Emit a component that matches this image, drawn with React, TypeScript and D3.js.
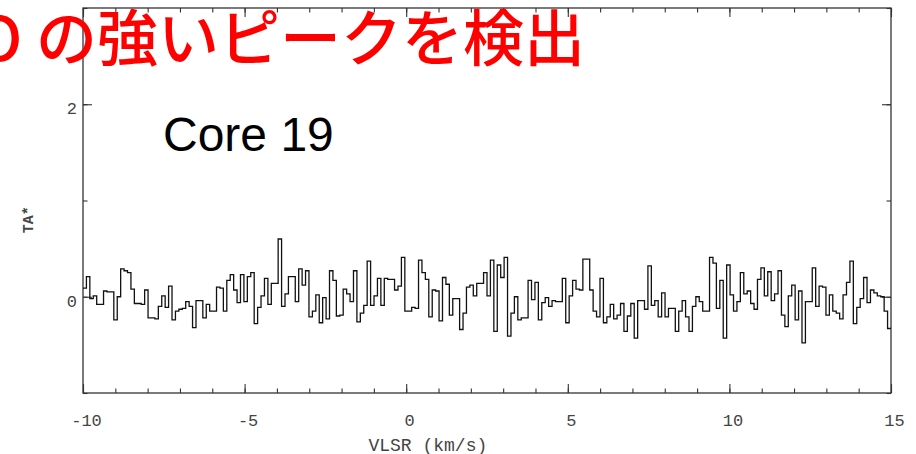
import React from 'react';
import * as d3 from 'd3';

// velocity range covered by the spectrum (km/s)
const vStart = -10;
const vEnd = 15;

// TA* per channel, read left to right off the plot, split in pieces
const taPart1 = [0.09, 0.21, -0.02, 0.01, -0.08, -0.08, 0.06, 0.05, 0.05, -0.24, 0.0, 0.29, 0.27, 0.25, 0.08, -0.07, -0.07, -0.08, 0.07, -0.22, -0.22, -0.23, -0.1, 0.01, -0.11, 0.11, -0.24, -0.15, -0.13, -0.12, -0.05, -0.1, -0.32, -0.04, -0.04, -0.22, -0.08, -0.15, -0.15, 0.1, 0.09, -0.15, 0.17, 0.23, 0.07, -0.06, 0.23, -0.05, 0.21];
const taPart2 = [0.25, -0.28, -0.11, 0.01, 0.19, -0.08, 0.14, 0.14, 0.6, -0.1, 0.03, 0.21, 0.21, -0.05, 0.29, 0.12, 0.27, -0.21, -0.15, 0.02, -0.27, -0.01, -0.23, 0.27, 0.17, -0.2, -0.19, 0.08, 0.03, -0.05, 0.27, -0.26, -0.17, -0.09, 0.37, -0.09, 0.01, 0.19, -0.09, 0.19, 0.18, 0.18, 0.07, 0.11, 0.41, -0.15, -0.15];
const taPart3 = [-0.11, -0.12, 0.38, 0.25, 0.18, -0.21, 0.07, 0.06, -0.25, 0.2, 0.13, -0.19, -0.02, -0.02, -0.34, -0.17, 0.1, 0.12, 0.01, 0.14, 0.14, 0.25, 0.01, 0.38, -0.36, 0.33, 0.2, 0.41, -0.41, -0.17, 0.0, -0.24, -0.22, -0.22, 0.17, -0.03, 0.15, -0.24, -0.06, -0.01, -0.1, -0.04, -0.05, -0.05, 0.19, -0.27, 0.01, 0.17];
const taPart4 = [0.08, 0.07, 0.39, 0.39, 0.07, -0.15, -0.21, 0.19, -0.27, -0.21, -0.08, -0.23, -0.19, -0.07, -0.36, -0.2, -0.07, -0.43, -0.04, -0.04, -0.13, 0.32, -0.09, -0.04, -0.21, 0.04, -0.21, -0.12, -0.12, -0.36, -0.15, -0.04, -0.21, -0.36, -0.1, 0.0, -0.05, -0.15, -0.15, 0.41, 0.35, -0.12, 0.17, -0.43, 0.33, 0.02, -0.15];
const taPart5 = [-0.05, 0.25, 0.03, 0.06, -0.07, -0.13, 0.18, 0.3, 0.01, 0.26, -0.04, 0.03, 0.27, -0.19, -0.31, 0.01, 0.12, -0.24, 0.06, -0.48, -0.05, -0.05, 0.3, -0.1, 0.11, 0.1, -0.19, 0.02, -0.15, -0.17, -0.23, 0.02, 0.15, 0.37, -0.28, -0.11, -0.02, 0.2, -0.06, 0.07, 0.04, 0.01, 0.0, -0.15, -0.33];

// axis ticks
const xMajorTicks = [-10, -5, 0, 5, 10, 15];
const xMinorTicks = d3.range(-10, 16, 1);
const yDomain = [-1, 3];
const yMajorTicks = [0, 2];
const yMinorTicks = [-1, 0, 1, 2, 3];

const titleText = 'C¹⁸O の強いピークを検出';
const coreText = 'Core 19';

function App() {
  const svgRef = React.useRef(null);

  const width = 916;
  const height = 454;
  const margin = { top: 8, right: 25, bottom: 61, left: 83 };
  const innerW = width - margin.left - margin.right;
  const innerH = height - margin.top - margin.bottom;

  React.useEffect(() => {
    const ta = [...taPart1, ...taPart2, ...taPart3, ...taPart4, ...taPart5];
    const dv = (vEnd - vStart) / ta.length;
    const pts: [number, number][] = ta.map((t, i) => [vStart + i * dv, t]);
    pts.push([vEnd, ta[ta.length - 1]]);

    const x = d3.scaleLinear().domain([vStart, vEnd]).range([0, innerW]);
    const y = d3.scaleLinear().domain(yDomain).range([innerH, 0]);

    const svgEl = d3.select(svgRef.current);
    svgEl.selectAll('*').remove();
    const g = svgEl.append('g').attr('transform', `translate(${margin.left},${margin.top})`);

    const mono = '"Liberation Mono", "DejaVu Sans Mono", monospace';
    const axisColor = '#333';

    // helper: ticks pointing into the frame, no domain line
    const addAxis = (axis, transform, showLabels) => {
      const ag = g.append('g').attr('transform', transform).call(axis);
      ag.select('.domain').remove();
      ag.selectAll('line').attr('stroke', axisColor).attr('stroke-width', 1.1);
      if (!showLabels) ag.selectAll('text').remove();
      return ag;
    };

    // bottom
    addAxis(d3.axisBottom(x).tickValues(xMinorTicks).tickSize(-4.5).tickFormat(() => ''), `translate(0,${innerH})`, false);
    const xb = addAxis(d3.axisBottom(x).tickValues(xMajorTicks).tickSize(-9).tickPadding(21), `translate(0,${innerH})`, true);
    xb.selectAll('text')
      .attr('font-family', mono)
      .attr('font-size', 17)
      .attr('fill', '#444')
      .attr('dx', 3)
      .text((d) => (d < 0 ? '-' + Math.abs(d) : String(d)));
    // top
    addAxis(d3.axisTop(x).tickValues(xMinorTicks).tickSize(-4.5), 'translate(0,0)', false);
    addAxis(d3.axisTop(x).tickValues(xMajorTicks).tickSize(-9), 'translate(0,0)', false);

    // left
    addAxis(d3.axisLeft(y).tickValues(yMinorTicks).tickSize(-4.5), 'translate(0,0)', false);
    const yl = addAxis(d3.axisLeft(y).tickValues(yMajorTicks).tickSize(-9).tickPadding(6).tickFormat(d3.format('d')), 'translate(0,0)', true);
    yl.selectAll('text').attr('font-family', mono).attr('font-size', 17).attr('fill', '#444').attr('dy', '0.55em');
    // right
    addAxis(d3.axisRight(y).tickValues(yMinorTicks).tickSize(-4.5), `translate(${innerW},0)`, false);
    addAxis(d3.axisRight(y).tickValues(yMajorTicks).tickSize(-9), `translate(${innerW},0)`, false);

    // frame
    g.append('rect')
      .attr('width', innerW)
      .attr('height', innerH)
      .attr('fill', 'none')
      .attr('stroke', axisColor)
      .attr('stroke-width', 1.3);

    // spectrum as a histogram-style step line
    const line = d3.line()
      .x((d) => x(d[0]))
      .y((d) => y(d[1]))
      .curve(d3.curveStepAfter);
    g.append('path')
      .datum(pts)
      .attr('d', line)
      .attr('fill', 'none')
      .attr('stroke', '#111')
      .attr('stroke-width', 1.3);

    // axis titles
    svgEl.append('text')
      .attr('x', margin.left + x(0.67))
      .attr('y', 451)
      .attr('text-anchor', 'middle')
      .attr('font-family', mono)
      .attr('font-size', 18)
      .attr('fill', '#444')
      .text('VLSR (km/s)');
    svgEl.append('text')
      .attr('transform', `translate(33,${margin.top + y(0.8)}) rotate(-90)`)
      .attr('text-anchor', 'middle')
      .attr('font-family', mono)
      .attr('font-weight', 'bold')
      .attr('font-size', 15)
      .attr('fill', '#444')
      .text('TA*');

    // annotation inside plot
    svgEl.append('text')
      .attr('x', 163)
      .attr('y', 151)
      .attr('font-family', '"Liberation Sans", Arial, sans-serif')
      .attr('font-size', 48)
      .attr('fill', '#000')
      .text(coreText);

    // red slide title over the top
    svgEl.append('text')
      .attr('x', 585)
      .attr('y', 61)
      .attr('text-anchor', 'end')
      .attr('font-family', '"Noto Sans CJK JP", sans-serif')
      .attr('font-weight', 500)
      .attr('font-size', 61)
      .attr('fill', '#ff0000')
      .text(titleText);
  }, []);

  return (
    <svg
      ref={svgRef}
      width={width}
      height={height}
      style={{ position: 'absolute', left: 0, top: 0, background: '#fff' }}
    />
  );
}

export default App;
